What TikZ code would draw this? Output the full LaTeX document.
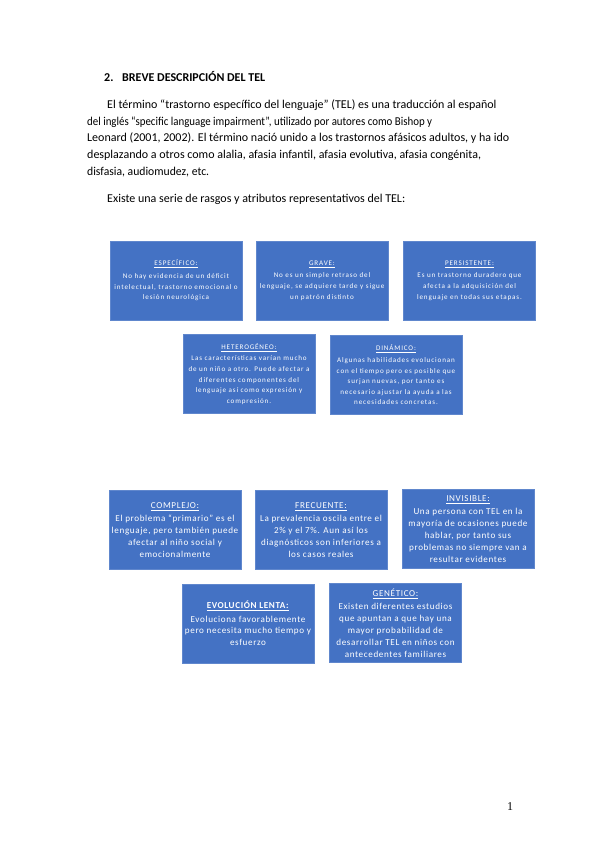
\documentclass[tikz,border=0pt]{standalone}
\usepackage{fontspec}
\usepackage{graphicx}
\setmainfont{Carlito}
\newfontfamily\timesf{Liberation Serif}
\newfontfamily\boxfont[LetterSpace=12]{Carlito}
\newfontfamily\boxfontb[LetterSpace=7]{Carlito}
\definecolor{boxblue}{HTML}{4472C4}
\newsavebox\fitbox
\newlength\fitlen
\newcommand{\fitw}[2]{\sbox\fitbox{#2}\setlength\fitlen{\wd\fitbox}\scalebox{\fpeval{#1/\fitlen}}[1]{\usebox\fitbox}}
\begin{document}
\begin{tikzpicture}[x=1pt,y=-1pt,
 txt/.style={anchor=base west, inner sep=0pt, font=\fontsize{12}{14}\selectfont},
 tbox/.style={fill=boxblue, draw=boxblue!85!white, line width=0.6pt, minimum width=132pt, minimum height=79pt, text=white, align=center, inner sep=1pt},
 smalltxt/.style={font=\boxfont\fontsize{7.1}{10.6}\selectfont},
 bigtxt/.style={font=\boxfontb\fontsize{9.1}{11.9}\selectfont},
]
\useasboundingbox (0,0) rectangle (599,848);
% heading and paragraph
\node[txt, font=\bfseries\fontsize{12}{14}\selectfont] (h1) at (104,82) {2.};
\node[txt, font=\bfseries\fontsize{12}{14}\selectfont] (h2) at (122,82) {\fitw{143}{BREVE DESCRIPCIÓN DEL TEL}};
\node[txt] (p1) at (107,108.5) {El término “trastorno específico del lenguaje” (TEL) es una traducción al español};
\node[txt] (p2) at (87,125) {\fitw{345}{del inglés “specific language impairment”, utilizado por autores como Bishop y}};
\node[txt] (p3) at (87,142) {Leonard (2001, 2002). El término nació unido a los trastornos afásicos adultos, y ha ido};
\node[txt] (p4) at (87,158.5) {desplazando a otros como alalia, afasia infantil, afasia evolutiva, afasia congénita,};
\node[txt] (p5) at (87,175) {\fitw{122}{disfasia, audiomudez, etc.}};
\node[txt] (p6) at (107,202) {Existe una serie de rasgos y atributos representativos del TEL:};
% boxes
\node[tbox, smalltxt] (b1) at (176,280.5) {\underline{ESPECÍFICO:}\\[2pt]No hay evidencia de un déficit\\intelectual, trastorno emocional o\\lesión neurológica};
\node[tbox, smalltxt] (b2) at (322,280.5) {\underline{GRAVE:}\\[2pt]No es un simple retraso del\\lenguaje, se adquiere tarde y sigue\\un patrón distinto};
\node[tbox, smalltxt] (b3) at (469.5,280.5) {\underline{PERSISTENTE:}\\[2pt]Es un trastorno duradero que\\afecta a la adquisición del\\lenguaje en todas sus etapas.};
\node[tbox, smalltxt] (b4) at (249,374) {\underline{HETEROGÉNEO:}\\[1pt]Las características varían mucho\\de un niño a otro. Puede afectar a\\diferentes componentes del\\lenguaje así como expresión y\\compresión.};
\node[tbox, smalltxt] (b5) at (396,375) {\underline{DINÁMICO:}\\[1pt]Algunas habilidades evolucionan\\con el tiempo pero es posible que\\surjan nuevas, por tanto es\\necesario ajustar la ayuda a las\\necesidades concretas.};
\node[tbox, bigtxt] (b6) at (175,530) {\underline{COMPLEJO:}\\[1.5pt]El problema “primario” es el\\lenguaje, pero también puede\\afectar al niño social y\\emocionalmente};
\node[tbox, bigtxt] (b7) at (321,530) {\underline{FRECUENTE:}\\[1.5pt]La prevalencia oscila entre el\\2\% y el 7\%. Aun así los\\diagnósticos son inferiores a\\los casos reales};
\node[tbox, bigtxt] (b8) at (468,529) {\underline{INVISIBLE:}\\[1pt]Una persona con TEL en la\\mayoría de ocasiones puede\\hablar, por tanto sus\\problemas no siempre van a\\resultar evidentes};
\node[tbox, bigtxt] (b9) at (248,623.5) {\underline{\textbf{EVOLUCIÓN LENTA:}}\\[1.5pt]Evoluciona favorablemente\\pero necesita mucho tiempo y\\esfuerzo};
\node[tbox, bigtxt] (b10) at (395.5,623) {\underline{GENÉTICO:}\\[1pt]Existen diferentes estudios\\que apuntan a que hay una\\mayor probabilidad de\\desarrollar TEL en niños con\\antecedentes familiares};
% page number
\node[anchor=base, inner sep=0pt, font=\timesf\fontsize{12}{14}\selectfont] (pg) at (510,810) {1};
\end{tikzpicture}
\end{document}
